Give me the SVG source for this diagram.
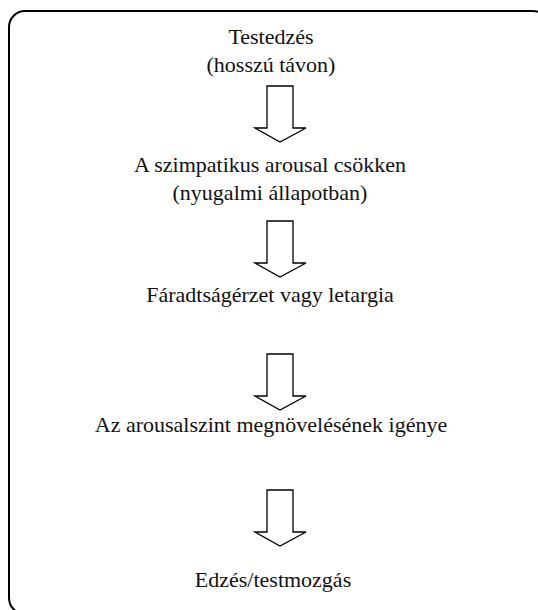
<svg xmlns="http://www.w3.org/2000/svg" width="538" height="610" viewBox="0 0 538 610">
<style>
.t{font-family:'Liberation Serif','Times New Roman',Tinos,'DejaVu Serif',Georgia,serif;font-size:22px;fill:#111;text-anchor:middle}
.arrow{fill:#fff;stroke:#000;stroke-width:1.3;stroke-linejoin:miter}
.frame{fill:#fff;stroke:#000;stroke-width:2}
</style>
<defs>
<path id="bigArrow" class="arrow" d="M267,0 H293 V42 H306 L280,56 L255,42 H267 Z"/>
</defs>
<rect class="frame" x="9" y="11" width="540" height="603" rx="16" ry="16"/>
<g id="n1"><text class="t" x="271" y="44">Testedzés</text><text class="t" x="271" y="72">(hosszú távon)</text></g>
<g id="n2"><text class="t" x="270" y="172">A szimpatikus arousal csökken</text><text class="t" x="270" y="200">(nyugalmi állapotban)</text></g>
<g id="n3"><text class="t" x="270" y="302">Fáradtságérzet vagy letargia</text></g>
<g id="n4"><text class="t" x="271" y="432">Az arousalszint megnövelésének igénye</text></g>
<g id="n5"><text class="t" x="273" y="587">Edzés/testmozgás</text></g>
<g id="connectors">
<use href="#bigArrow" y="86"/>
<use href="#bigArrow" y="221"/>
<use href="#bigArrow" y="354"/>
<use href="#bigArrow" y="490"/>
</g>
</svg>
